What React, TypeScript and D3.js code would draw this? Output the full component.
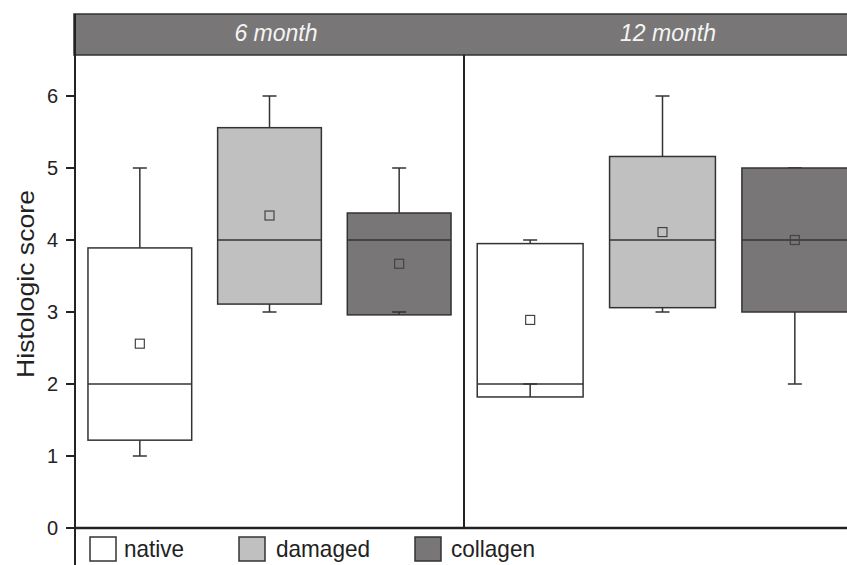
import React from "react";
import * as d3 from "d3";

const panels = ["6 month", "12 month"];
const groups = ["native", "damaged", "collagen"];
const colors = ["#ffffff", "#c0c0c0", "#787676"];

// order: 6 month (native, damaged, collagen), 12 month (native, damaged, collagen)
const whiskerLow = [1, 3, 3, 2, 3, 2];
const q1 = [1.22, 3.11, 2.96, 1.82, 3.06, 3.0];
const median = [2, 4, 4, 2, 4, 4];
const q3 = [3.89, 5.56, 4.375, 3.95, 5.16, 5.0];
const whiskerHigh = [5, 6, 5, 4, 6, 5];
const mean = [2.56, 4.34, 3.67, 2.89, 4.11, 4.0];
const yTicks = [0, 1, 2, 3, 4, 5, 6];

const W = 847;
const H = 565;
const X0 = 75;
const XDIV = 464;
const XEND = 861;
const YBOT = 528;
const YTOP = 55;
const FONT = "'Liberation Sans', Arial, Helvetica, sans-serif";
const STROKE = "#333";

export default function App() {
  const y = d3.scaleLinear().domain([0, 6]).range([YBOT, 96]);
  const panelRanges: [number, number][] = [
    [X0, XDIV],
    [XDIV, XEND],
  ];
  const xs = panelRanges.map((r) =>
    d3.scaleBand<string>().domain(groups).range(r).paddingInner(0.2).paddingOuter(0.1)
  );
  const headerCenters = [276, 668];
  const cap = 14;
  const ms = 9;

  const boxes: React.ReactNode[] = [];
  panels.forEach((p, pi) => {
    const x = xs[pi];
    groups.forEach((g, gi) => {
      const i = pi * 3 + gi;
      const bx = x(g)!;
      const bw = x.bandwidth();
      const cx = bx + bw / 2;
      boxes.push(
        <g key={`${p}-${g}`}>
          <line x1={cx} x2={cx} y1={y(q3[i])} y2={y(whiskerHigh[i])} stroke={STROKE} strokeWidth={1.5} />
          <line x1={cx - cap / 2} x2={cx + cap / 2} y1={y(whiskerHigh[i])} y2={y(whiskerHigh[i])} stroke={STROKE} strokeWidth={1.5} />
          <rect x={bx} y={y(q3[i])} width={bw} height={y(q1[i]) - y(q3[i])} fill={colors[gi]} stroke={STROKE} strokeWidth={1.5} />
          <line x1={cx} x2={cx} y1={y(q1[i])} y2={y(whiskerLow[i])} stroke={STROKE} strokeWidth={1.5} />
          <line x1={cx - cap / 2} x2={cx + cap / 2} y1={y(whiskerLow[i])} y2={y(whiskerLow[i])} stroke={STROKE} strokeWidth={1.5} />
          <line x1={bx} x2={bx + bw} y1={y(median[i])} y2={y(median[i])} stroke={STROKE} strokeWidth={1.5} />
          <rect x={cx - ms / 2} y={y(mean[i]) - ms / 2} width={ms} height={ms} fill="none" stroke="#444" strokeWidth={1.2} />
        </g>
      );
    });
  });

  const legendX = [90, 239, 415];
  const legendTextX = [124, 276, 451];
  const legendLen = [60, 94, 84];

  return (
    <svg width={W} height={H} style={{ position: "absolute", left: 0, top: 0, background: "#fff" }} fontFamily={FONT}>
      {/* header strip */}
      <rect x={X0 - 1} y={14} width={W} height={41} fill="#787676" stroke={STROKE} strokeWidth={1.5} />
      {panels.map((p, pi) => (
        <text key={p} x={headerCenters[pi]} y={41} textAnchor="middle" fontSize={23} fontStyle="italic" fill="#f4f4f4">
          {p}
        </text>
      ))}
      {boxes}
      {/* panel divider */}
      <line x1={XDIV} x2={XDIV} y1={YTOP} y2={YBOT} stroke="#222" strokeWidth={2} />
      {/* axes */}
      <line x1={X0} x2={X0} y1={14} y2={H} stroke="#222" strokeWidth={2} />
      <line x1={X0} x2={W} y1={YBOT} y2={YBOT} stroke="#222" strokeWidth={2.5} />
      {yTicks.map((t) => (
        <g key={t}>
          <line x1={X0 - 9} x2={X0} y1={y(t)} y2={y(t)} stroke="#222" strokeWidth={2} />
          <text x={58} y={y(t)} dy="0.36em" textAnchor="end" fontSize={20} fill="#222">
            {t}
          </text>
        </g>
      ))}
      <text
        transform={`translate(34,284) rotate(-90)`}
        textAnchor="middle"
        fontSize={24}
        fill="#222"
        textLength={188}
        lengthAdjust="spacingAndGlyphs"
      >
        Histologic score
      </text>
      {/* legend */}
      {groups.map((g, gi) => (
        <g key={g}>
          <rect x={legendX[gi]} y={537} width={26} height={24} fill={colors[gi]} stroke={STROKE} strokeWidth={1.5} />
          <text x={legendTextX[gi]} y={557} fontSize={24} fill="#222" textLength={legendLen[gi]} lengthAdjust="spacingAndGlyphs">
            {g}
          </text>
        </g>
      ))}
    </svg>
  );
}
